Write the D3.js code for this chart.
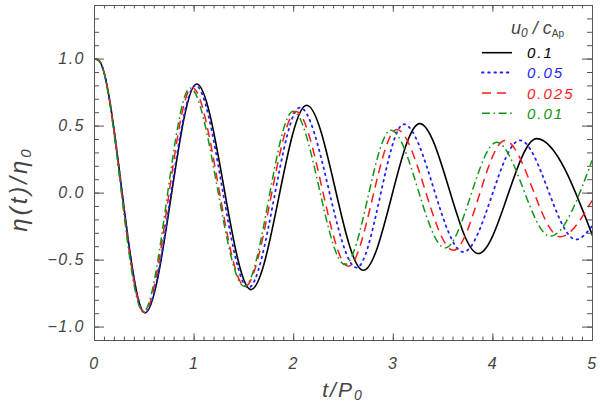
<!DOCTYPE html>
<html>
<head>
<meta charset="utf-8">
<script src="https://cdn.jsdelivr.net/npm/d3@7"></script>
<style>
  body { margin: 0; background: #fff; }
  text { font-family: "Liberation Sans", "DejaVu Sans", sans-serif; font-style: italic; }
</style>
</head>
<body>
<div id="viz"></div>
<script>
// extrema (t/P0, eta/eta0)
var t_01   = [0, 0.05, 0.512, 1.031, 1.576, 2.135, 2.704, 3.27, 3.858, 4.445, 5.02];
var eta_01 = [1.0, 0.985, -0.898, 0.811, -0.724, 0.652, -0.580, 0.515, -0.455, 0.403, -0.35];

var t_005   = [0, 0.05, 0.51, 1.02, 1.55, 2.068, 2.637, 3.11, 3.708, 4.277, 4.84, 5.0];
var eta_005 = [1.0, 0.985, -0.895, 0.80, -0.71, 0.635, -0.56, 0.51, -0.443, 0.39, -0.35, -0.25];

var t_0025   = [0, 0.05, 0.503, 0.985, 1.516, 2.03, 2.553, 3.04, 3.608, 4.126, 4.68, 5.0];
var eta_0025 = [1.0, 0.985, -0.893, 0.785, -0.70, 0.605, -0.55, 0.47, -0.43, 0.388, -0.33, -0.06];

var t_001   = [0, 0.05, 0.495, 0.965, 1.51, 2.0, 2.52, 2.98, 3.524, 4.043, 4.58, 5.0];
var eta_001 = [1.0, 0.985, -0.89, 0.78, -0.70, 0.607, -0.537, 0.465, -0.413, 0.375, -0.326, 0.24];

var series_labels = ["0.1", "0.05", "0.025", "0.01"];
var x_tick_labels = [0, 1, 2, 3, 4, 5];
var y_tick_labels = [-1.0, -0.5, 0.0, 0.5, 1.0];

var width = 600, height = 402;
var plot = {left: 94, right: 592, top: 5, bottom: 340};

var x = d3.scaleLinear().domain([0, 5]).range([plot.left, plot.right]);
var y = d3.scaleLinear().domain([-1.1, 1.4]).range([plot.bottom, plot.top]);

var styles = [
    {color: "#000000", dash: null, width: 1.6},
    {color: "#1f1fff", dash: "1.6,4.6", width: 1.8},
    {color: "#ff1a1a", dash: "9,6", width: 1.5},
    {color: "#139413", dash: "8,3.5,1.6,3.5", width: 1.5}
];

function make_series(ts, vals) {
    return ts.map(function(t, i) { return {t: t, v: vals[i]}; });
}

var all_series = [
    make_series(t_01, eta_01),
    make_series(t_005, eta_005),
    make_series(t_0025, eta_0025),
    make_series(t_001, eta_001)
];

var svg = d3.select("#viz").append("svg")
    .attr("width", width)
    .attr("height", height);

svg.append("defs").append("clipPath")
    .attr("id", "plot-clip")
    .append("rect")
    .attr("x", plot.left)
    .attr("y", plot.top)
    .attr("width", plot.right - plot.left)
    .attr("height", plot.bottom - plot.top);

var line = d3.line()
    .x(function(d) { return x(d.t); })
    .y(function(d) { return y(d.v); })
    .curve(d3.curveMonotoneX);

var curves = svg.append("g").attr("clip-path", "url(#plot-clip)");

all_series.forEach(function(s, i) {
    curves.append("path")
        .datum(s)
        .attr("d", line)
        .attr("fill", "none")
        .attr("stroke", styles[i].color)
        .attr("stroke-width", styles[i].width)
        .attr("stroke-dasharray", styles[i].dash)
        .attr("stroke-linecap", i == 1 ? "round" : "butt");
});

// axes: majors and minors, ticks pointing inwards
var axis_color = "#555";
var label_color = "#444";
var x_minor = d3.range(0, 51).map(function(d) { return d / 10; });
var y_minor = d3.range(-11, 15).map(function(d) { return d / 10; });

function style_axis(g) {
    g.select(".domain").attr("stroke", axis_color);
    g.selectAll(".tick line").attr("stroke", axis_color);
    g.selectAll("text")
        .attr("fill", label_color)
        .style("font-size", "16px")
        .style("letter-spacing", "1.5px");
}

svg.append("g")
    .attr("transform", "translate(0," + plot.bottom + ")")
    .call(d3.axisBottom(x).tickValues(x_minor).tickSize(-3.4).tickFormat(""))
    .call(style_axis);
svg.append("g")
    .attr("transform", "translate(0," + plot.bottom + ")")
    .call(d3.axisBottom(x).tickValues(x_tick_labels).tickSizeInner(-6.7).tickSizeOuter(0)
        .tickPadding(18).tickFormat(d3.format("d")))
    .call(style_axis);

svg.append("g")
    .attr("transform", "translate(0," + plot.top + ")")
    .call(d3.axisTop(x).tickValues(x_minor).tickSize(-3.4).tickFormat(""))
    .call(style_axis);
svg.append("g")
    .attr("transform", "translate(0," + plot.top + ")")
    .call(d3.axisTop(x).tickValues(x_tick_labels).tickSizeInner(-6.7).tickSizeOuter(0).tickFormat(""))
    .call(style_axis);

svg.append("g")
    .attr("transform", "translate(" + plot.left + ",0)")
    .call(d3.axisLeft(y).tickValues(y_minor).tickSize(-5).tickFormat(""))
    .call(style_axis);
svg.append("g")
    .attr("transform", "translate(" + plot.left + ",0)")
    .call(d3.axisLeft(y).tickValues(y_tick_labels).tickSizeInner(-10).tickSizeOuter(0)
        .tickPadding(9).tickFormat(function(d) { return d3.format(".1f")(d).replace("-", "\u2212 "); }))
    .call(style_axis);

svg.append("g")
    .attr("transform", "translate(" + plot.right + ",0)")
    .call(d3.axisRight(y).tickValues(y_minor).tickSize(-5).tickFormat(""))
    .call(style_axis);
svg.append("g")
    .attr("transform", "translate(" + plot.right + ",0)")
    .call(d3.axisRight(y).tickValues(y_tick_labels).tickSizeInner(-10).tickSizeOuter(0).tickFormat(""))
    .call(style_axis);

// axis titles
var x_title = svg.append("text")
    .attr("x", (plot.left + plot.right) / 2)
    .attr("y", 397)
    .attr("text-anchor", "middle")
    .attr("fill", label_color)
    .style("font-size", "21px")
    .style("letter-spacing", "2px");
x_title.append("tspan").text("t/P");
x_title.append("tspan").attr("dy", 3).style("font-size", "14px").text("0");

var y_title = svg.append("text")
    .attr("transform", "translate(27,189)rotate(-90)")
    .attr("text-anchor", "middle")
    .attr("fill", label_color)
    .style("font-size", "24px")
    .style("letter-spacing", "3px");
y_title.append("tspan").text("\u03b7(t)/\u03b7");
y_title.append("tspan").attr("dy", 4).style("font-size", "15px").text("0");

// legend
var legend_title = svg.append("text")
    .attr("x", 511)
    .attr("y", 34)
    .attr("fill", label_color)
    .style("font-size", "18px");
legend_title.append("tspan").text("u");
legend_title.append("tspan").attr("dy", 3).style("font-size", "12px").text("0");
legend_title.append("tspan").attr("dy", -3).text(" / c");
legend_title.append("tspan").attr("dy", 3).style("font-size", "10px").style("font-style", "normal").text("Ap");

var legend_y = [52.7, 72.5, 93, 113.3];

series_labels.forEach(function(label, i) {
    svg.append("line")
        .attr("x1", 482)
        .attr("x2", 512)
        .attr("y1", legend_y[i])
        .attr("y2", legend_y[i])
        .attr("stroke", styles[i].color)
        .attr("stroke-width", styles[i].width)
        .attr("stroke-dasharray", styles[i].dash)
        .attr("stroke-linecap", i == 1 ? "round" : "butt");

    svg.append("text")
        .attr("x", 527)
        .attr("y", legend_y[i] + 5.5)
        .attr("fill", i == 0 ? "#000" : styles[i].color)
        .style("font-size", "15px")
        .style("letter-spacing", "2px")
        .text(label);
});
</script>
</body>
</html>
